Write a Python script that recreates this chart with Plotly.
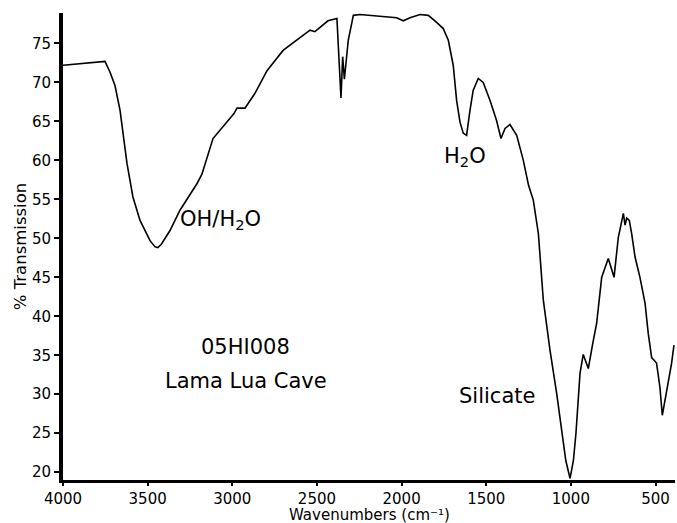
import plotly.graph_objects as go

wavenumber = [4000, 3900, 3800, 3752, 3722, 3693, 3663, 3622, 3587, 3545, 3486, 3456, 3440, 3420,
              3368, 3309, 3209, 3180, 3114, 2990, 2972, 2925, 2866, 2795, 2700, 2541, 2512, 2435,
              2382, 2358, 2348, 2338, 2315, 2285, 2246, 2108, 2029, 1990, 1950, 1891, 1842, 1793,
              1754, 1724, 1695, 1675, 1655, 1636, 1616, 1596, 1577, 1547, 1518, 1478, 1439, 1413,
              1389, 1360, 1320, 1281, 1250, 1222, 1192, 1163, 1123, 1084, 1054, 1030, 1005, 985,
              970, 946, 927, 897, 871, 848, 818, 779, 745, 720, 690, 680, 670, 655, 641, 621, 592,
              562, 543, 523, 494, 474, 460, 444, 425, 405, 391]
transmission = [72.2, 72.4, 72.6, 72.7, 71.3, 69.6, 66.4, 59.6, 55.3, 52.3, 49.7, 48.9, 48.8, 49.2,
                51.0, 53.6, 57.0, 58.2, 62.8, 66.0, 66.7, 66.7, 68.6, 71.5, 74.1, 76.7, 76.5, 77.9,
                78.2, 68.0, 73.3, 70.4, 75.4, 78.6, 78.7, 78.5, 78.3, 77.9, 78.3, 78.7, 78.6, 77.7,
                76.9, 75.4, 72.2, 67.7, 64.9, 63.5, 63.2, 66.4, 69.0, 70.5, 70.0, 67.7, 65.1, 62.8,
                64.1, 64.6, 63.2, 60.0, 56.8, 54.9, 50.6, 42.1, 35.6, 30.1, 25.0, 21.5, 19.2, 21.5,
                25.0, 32.7, 35.1, 33.3, 36.5, 39.1, 45.0, 47.4, 45.0, 50.1, 53.2, 51.7, 52.6, 52.3,
                50.6, 47.6, 45.0, 41.7, 37.8, 34.7, 34.0, 30.9, 27.3, 29.2, 31.8, 34.0, 36.3]

x_ticks = [4000, 3500, 3000, 2500, 2000, 1500, 1000, 500]
y_ticks = [20, 25, 30, 35, 40, 45, 50, 55, 60, 65, 70, 75]

font = "DejaVu Sans, Verdana, sans-serif"

fig = go.Figure()
fig.add_trace(go.Scatter(x=wavenumber, y=transmission, mode="lines",
                         line=dict(color="black", width=1.6), hoverinfo="skip"))

labels = [
    dict(x=3320, y=52.3, text="OH/H<sub>2</sub>O", xanchor="left"),
    dict(x=1623, y=60.4, text="H<sub>2</sub>O", xanchor="center"),
    dict(x=2922, y=36.0, text="05HI008", xanchor="center"),
    dict(x=2922, y=31.7, text="Lama Lua Cave", xanchor="center"),
    dict(x=1434, y=29.8, text="Silicate", xanchor="center"),
]
for a in labels:
    fig.add_annotation(x=a["x"], y=a["y"], text=a["text"], xanchor=a["xanchor"],
                       yanchor="middle", showarrow=False,
                       font=dict(family=font, size=21, color="black"))

# x-axis title placed as paper annotation for precise spacing below the tick labels
fig.add_annotation(x=0.5, y=-0.076, xref="paper", yref="paper",
                   text="Wavenumbers (cm\u207b\u00b9)", showarrow=False,
                   xanchor="center", yanchor="middle",
                   font=dict(family=font, size=15, color="black"))

fig.update_layout(
    width=677, height=523,
    margin=dict(l=63, r=2, t=13, b=43),
    paper_bgcolor="white", plot_bgcolor="white",
    showlegend=False,
    font=dict(family=font, size=15, color="black"),
    xaxis=dict(range=[4000, 385], tickvals=x_ticks, ticktext=[str(v) for v in x_ticks],
               showgrid=False, zeroline=False, showline=True, linecolor="black", linewidth=3,
               ticks="outside", ticklen=3, tickwidth=1.5, tickcolor="black",
               tickfont=dict(size=15)),
    yaxis=dict(range=[19, 78.9], tickvals=y_ticks,
               showgrid=False, zeroline=False, showline=True, linecolor="black", linewidth=4,
               ticks="outside", ticklen=5, tickwidth=1.5, tickcolor="black",
               title=dict(text="% Transmission", font=dict(size=16.5), standoff=2),
               tickfont=dict(size=15)),
)

fig.write_html("out.html")
